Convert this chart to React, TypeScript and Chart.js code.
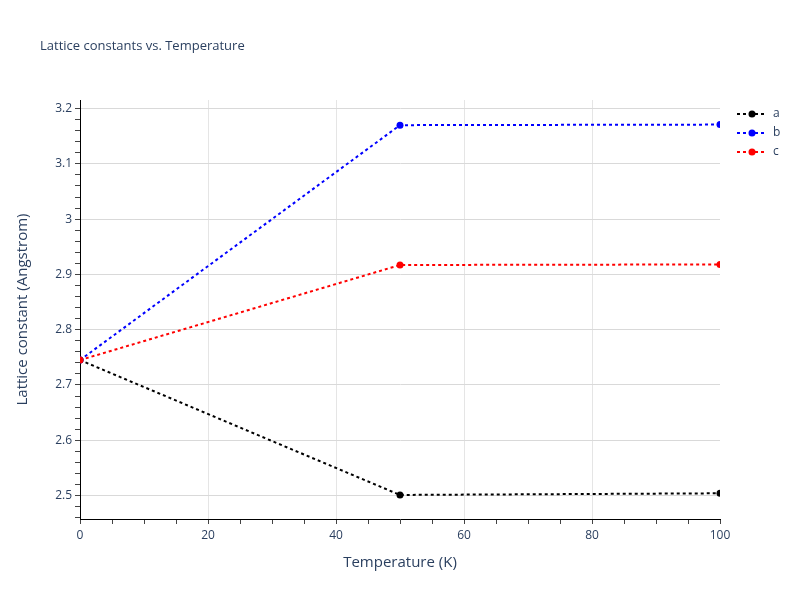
import React, { useEffect, useRef } from "react";
import { Chart, registerables } from "chart.js";

Chart.register(...registerables);

const temperatures = [0, 50, 100];
const latticeA = [2.745, 2.501, 2.504];
const latticeB = [2.745, 3.17, 3.171];
const latticeC = [2.745, 2.917, 2.918];
const seriesNames = ["a", "b", "c"];
const seriesColors = ["#000000", "#0000ff", "#ff0000"];
const chartTitle = "Lattice constants vs. Temperature";
const xTitle = "Temperature (K)";
const yTitle = "Lattice constant (Angstrom)";

const FONT = "'Open Sans', Verdana, Arial, sans-serif";
const TEXT = "#2a3f5f";

const isMult = (v: number, m: number) => {
  const r = v / m;
  return Math.abs(r - Math.round(r)) < 1e-6;
};

const extrasPlugin = {
  id: "extras",
  afterDraw(chart: any) {
    const ctx = chart.ctx as CanvasRenderingContext2D;
    ctx.save();
    ctx.fillStyle = TEXT;
    ctx.font = `13px ${FONT}`;
    ctx.textAlign = "left";
    ctx.textBaseline = "middle";
    ctx.fillText(chartTitle, 40, 46);
    const x0 = 737;
    const y0 = 114;
    const step = 19;
    chart.data.datasets.forEach((ds: any, i: number) => {
      const y = y0 + i * step;
      ctx.strokeStyle = ds.borderColor;
      ctx.lineWidth = 2;
      ctx.setLineDash([3, 3]);
      ctx.beginPath();
      ctx.moveTo(x0, y);
      ctx.lineTo(x0 + 30, y);
      ctx.stroke();
      ctx.setLineDash([]);
      ctx.fillStyle = ds.borderColor;
      ctx.beginPath();
      ctx.arc(x0 + 15, y, 3.5, 0, Math.PI * 2);
      ctx.fill();
      ctx.fillStyle = TEXT;
      ctx.font = `12px ${FONT}`;
      ctx.textAlign = "left";
      ctx.textBaseline = "middle";
      ctx.fillText(ds.label, x0 + 36, y);
    });
    ctx.restore();
  },
};

export default function App() {
  const ref = useRef<HTMLCanvasElement | null>(null);
  useEffect(() => {
    if (!ref.current) return;
    const series = [latticeA, latticeB, latticeC];
    const chart = new Chart(ref.current, {
      type: "line",
      data: {
        datasets: series.map((vals, i) => ({
          label: seriesNames[i],
          data: temperatures.map((t, j) => ({ x: t, y: vals[j] })),
          borderColor: seriesColors[i],
          backgroundColor: seriesColors[i],
          pointBackgroundColor: seriesColors[i],
          pointBorderWidth: 0,
          pointRadius: 3.5,
          borderWidth: 2,
          borderDash: [3, 3],
          fill: false,
          tension: 0,
          clip: 0,
          order: series.length - i,
        })),
      },
      options: {
        responsive: false,
        animation: false,
        events: [],
        layout: { padding: { top: 100, right: 80, left: 0, bottom: 0 } },
        plugins: {
          legend: { display: false },
          tooltip: { enabled: false },
          title: { display: false },
        },
        scales: {
          x: {
            type: "linear",
            min: 0,
            max: 100,
            afterFit: (s: any) => {
              s.height = 81;
            },
            border: { display: true, color: "#000000", width: 1 },
            grid: {
              drawTicks: true,
              tickLength: 5,
              tickColor: "#444444",
              color: (c: any) =>
                c.tick && isMult(c.tick.value, 20) && c.tick.value > 0 && c.tick.value < 100
                  ? "#e5e5e5"
                  : "rgba(0,0,0,0)",
              lineWidth: 1,
            },
            ticks: {
              stepSize: 5,
              autoSkip: false,
              maxRotation: 0,
              padding: 4,
              color: TEXT,
              font: { family: FONT, size: 12 },
              callback: (v: any) => (isMult(Number(v), 20) ? String(Math.round(Number(v))) : ""),
            },
            title: {
              display: true,
              text: xTitle,
              color: TEXT,
              font: { family: FONT, size: 15 },
              padding: { top: 0, bottom: 28 },
            },
          },
          y: {
            type: "linear",
            min: 2.4575,
            max: 3.2155,
            afterFit: (s: any) => {
              s.width = 80;
            },
            border: { display: true, color: "#000000", width: 1 },
            grid: {
              drawTicks: true,
              tickLength: 5,
              tickColor: "#444444",
              color: (c: any) =>
                c.tick && isMult(c.tick.value, 0.1) ? "#d9d9d9" : "rgba(0,0,0,0)",
              lineWidth: 1,
            },
            ticks: {
              stepSize: 0.02,
              includeBounds: false,
              autoSkip: false,
              padding: 3,
              color: TEXT,
              font: { family: FONT, size: 12 },
              callback: (v: any) =>
                isMult(Number(v), 0.1) ? String(Number(Number(v).toFixed(1))) : "",
            },
            title: {
              display: true,
              text: yTitle,
              color: TEXT,
              font: { family: FONT, size: 15 },
              padding: { top: 14, bottom: 0 },
            },
          },
        },
      },
      plugins: [extrasPlugin],
    } as any);
    return () => chart.destroy();
  }, []);
  return (
    <div style={{ position: "absolute", left: 0, top: 0, width: 800, height: 600, background: "#fff" }}>
      <canvas ref={ref} width={800} height={600} />
    </div>
  );
}
